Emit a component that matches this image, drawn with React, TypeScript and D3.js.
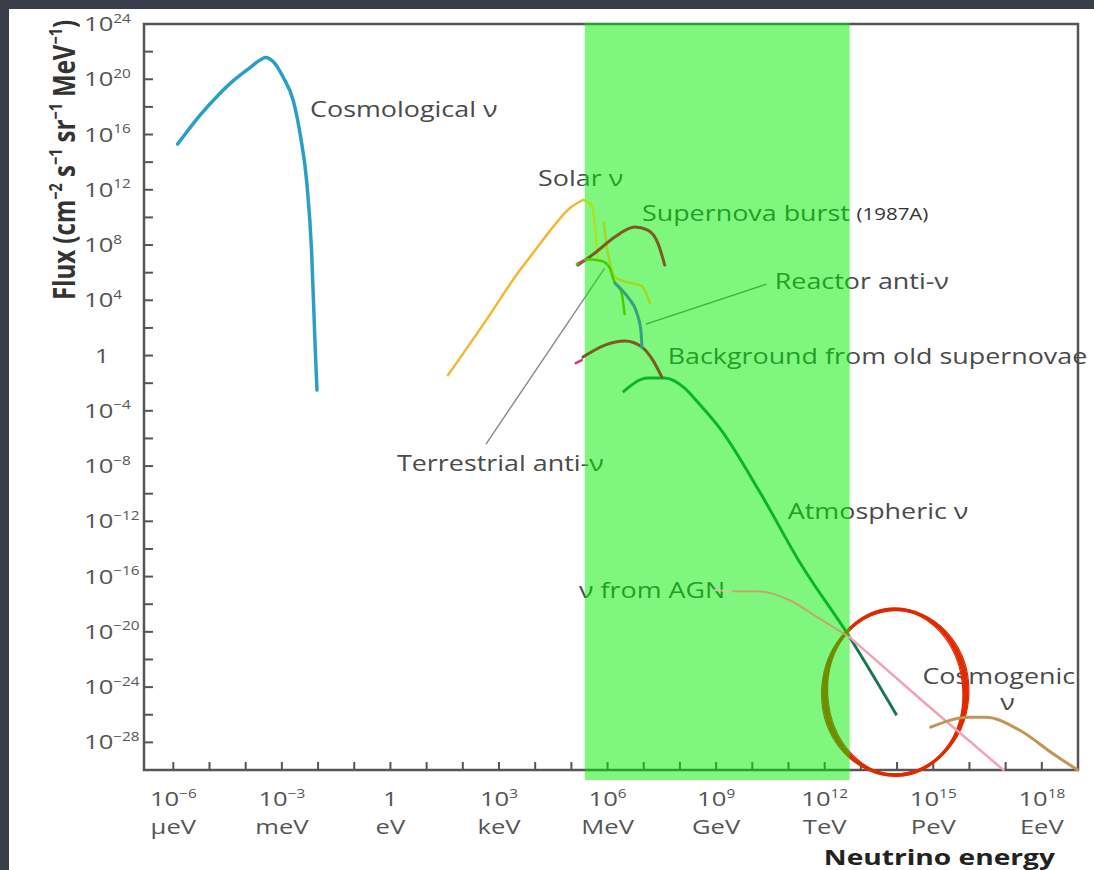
import React, { useEffect, useRef } from 'react';
import * as d3 from 'd3';

// every point is [log10(E / eV), log10(flux)]
const cosmological = [[-5.88, 15.31], [-5.26, 17.41], [-4.80, 18.74], [-4.35, 19.88], [-3.88, 20.85], [-3.60, 21.40], [-3.45, 21.58], [-3.25, 21.30], [-2.97, 20.18], [-2.69, 18.50], [-2.50, 16.11], [-2.31, 12.49], [-2.18, 7.63], [-2.08, 0.61], [-2.03, -2.50]];
const solar = [[1.59, -1.42], [2.61, 2.42], [3.58, 6.19], [3.94, 7.42], [4.49, 9.30], [4.96, 10.68], [5.32, 11.26]];
const solarLineA = [[5.32, 11.26], [5.40, 11.18], [5.57, 10.82], [5.65, 9.45], [5.70, 8.00], [5.73, 7.06]];
const solarLineB = [[5.90, 9.59], [5.95, 8.36], [6.06, 6.77], [6.20, 5.68], [6.53, 5.32], [6.95, 5.03], [7.17, 3.80]];
const terrestrial = [[5.15, 6.62], [5.45, 6.98], [5.84, 6.84], [6.06, 6.33], [6.17, 5.46], [6.39, 4.52], [6.47, 3.00]];
const reactor = [[6.20, 5.25], [6.56, 4.23], [6.81, 3.07], [6.92, 1.84], [6.95, 0.61]];
const supernovaBurst = [[5.18, 6.55], [5.65, 7.42], [6.20, 8.58], [6.75, 9.30], [7.11, 9.08], [7.39, 8.14], [7.58, 6.55]];
const oldSupernovae = [[5.32, -0.11], [5.93, 0.76], [6.48, 1.05], [6.95, 0.61], [7.25, -0.33], [7.50, -1.56]];
const atmospheric = [[6.42, -2.65], [7.11, -1.63], [7.58, -1.63], [8.13, -2.36], [8.49, -3.37], [9.10, -5.25], [10.21, -9.89], [11.31, -14.96], [12.69, -20.39], [13.99, -26.04]];
const agnLead = [[8.96, -16.98], [9.43, -17.06]];
const agn = [[9.43, -17.06], [10.12, -17.06], [11.03, -17.71], [11.84, -19.01], [12.69, -20.39]];
const agnHigh = [[12.69, -20.39], [14.84, -25.31], [16.94, -30.0]];
const cosmogenic = [[14.93, -26.90], [15.98, -26.18], [16.45, -26.18], [17.39, -27.12], [18.33, -28.86], [18.99, -30.0]];
const magentaMarks = [[[5.12, -0.55], [5.29, -0.33]], [[5.23, 6.69], [5.34, 6.84]]];

// pointer lines from labels to curves
const terrestrialPointer = [[2.64, -6.41], [5.92, 6.33]];
const reactorPointer = [[7.06, 2.28], [10.39, 5.17]];

// highlighted band (log10 E) and circled region (centre and radii in decades)
const bandLogE = [5.37, 12.69];
const circle = { e: 13.95, f: -24.37, re: 1.95, rf: 6.0 };

// axis ticks
const yLabelExps = [24, 20, 16, 12, 8, 4, 0, -4, -8, -12, -16, -20, -24, -28];
const xLabelExps = [-6, -3, 0, 3, 6, 9, 12, 15, 18];
const xUnits = ['μeV', 'meV', 'eV', 'keV', 'MeV', 'GeV', 'TeV', 'PeV', 'EeV'];

// annotations: text, left/baseline anchor as [log10 E, log10 flux]
const notes = [
  { t: 'Cosmological ν', e: -2.22, f: 17.27 },
  { t: 'Solar ν', e: 4.08, f: 12.27 },
  { t: 'Supernova burst', e: 6.95, f: 9.74 },
  { t: 'Reactor anti-ν', e: 10.62, f: 4.81 },
  { t: 'Background from old supernovae', e: 7.66, f: -0.62 },
  { t: 'Terrestrial anti-ν', e: 0.18, f: -8.38 },
  { t: 'Atmospheric ν', e: 10.98, f: -11.84 },
  { t: 'ν from AGN', e: 5.21, f: -17.56 },
  { t: 'Cosmogenic', e: 14.70, f: -23.79 }
];

const W = 1094, H = 870;
const SX = 1.28;
const FONT = '"Open Sans", sans-serif';

export default function App() {
  const ref = useRef<SVGSVGElement>(null);

  useEffect(() => {
    const svg = d3.select(ref.current);
    svg.selectAll('*').remove();

    const left = 144, right = 1078, top = 24, bottom = 770;
    const x = d3.scaleLog().domain([Math.pow(10, -6.81), 1e19]).range([left, right]);
    const y = d3.scaleLog().domain([1e-30, 1e24]).range([bottom, top]);
    const px = (e: number) => x(Math.pow(10, e));
    const py = (f: number) => y(Math.pow(10, f));

    const line = d3.line<number[]>()
      .x(d => px(d[0]))
      .y(d => py(d[1]))
      .curve(d3.curveMonotoneX);
    const straight = d3.line<number[]>().x(d => px(d[0])).y(d => py(d[1]));

    svg.append('rect').attr('width', W).attr('height', H).attr('fill', '#3b3e4a');
    svg.append('rect').attr('x', 9).attr('y', 9).attr('width', W - 9).attr('height', H - 9).attr('fill', '#fff');

    const under = svg.append('g');

    // text with optional superscripts, stretched horizontally like the source
    function label(g, xx, yy, parts, size, opts: any = {}) {
      const t = g.append('text')
        .attr('transform', opts.rotate
          ? `translate(${xx},${yy}) scale(${SX},1) rotate(-90)`
          : `translate(${xx},${yy}) scale(${SX},1)`)
        .attr('font-family', FONT)
        .attr('font-size', size)
        .attr('font-weight', opts.weight || 'normal')
        .attr('text-anchor', opts.anchor || 'start')
        .attr('fill', opts.fill || '#4a4a4a');
      const lift = size * 0.42;
      let raised = false;
      parts.forEach(p => {
        const sup = typeof p !== 'string';
        const s = t.append('tspan').text(sup ? p.sup : p);
        if (sup) {
          s.attr('font-size', size * 0.6).attr('dy', raised ? 0 : -lift);
          raised = true;
        } else if (raised) {
          s.attr('dy', lift);
          raised = false;
        }
      });
      return t;
    }

    // frame
    under.append('rect')
      .attr('x', left).attr('y', top)
      .attr('width', right - left).attr('height', bottom - top)
      .attr('fill', 'none').attr('stroke', '#555').attr('stroke-width', 2.5);

    under.selectAll('.ytick')
      .data(d3.range(-28, 24, 2))
      .enter().append('line')
      .attr('x1', left).attr('x2', left + 9)
      .attr('y1', d => py(d)).attr('y2', d => py(d))
      .attr('stroke', '#555').attr('stroke-width', 2);

    under.selectAll('.xtick')
      .data(d3.range(-6, 19))
      .enter().append('line')
      .attr('x1', d => px(d)).attr('x2', d => px(d))
      .attr('y1', bottom).attr('y2', bottom - 8)
      .attr('stroke', '#555').attr('stroke-width', 2);

    yLabelExps.forEach(e => {
      if (e === 0) {
        label(under, 102, py(e) + 7, ['1'], 20, { anchor: 'middle', fill: '#555' });
      } else {
        label(under, 84, py(e) + 7, ['10', { sup: String(e).replace('-', '−') }], 20, { fill: '#555' });
      }
    });

    xLabelExps.forEach((e, i) => {
      const parts = e === 0 ? ['1'] : ['10', { sup: String(e).replace('-', '−') }];
      label(under, px(e), 806, parts, 20, { anchor: 'middle', fill: '#555' });
      label(under, px(e), 834, [xUnits[i]], 20, { anchor: 'middle', fill: '#555' });
    });

    label(under, 1055, 865, ['Neutrino energy'], 22, { anchor: 'end', weight: 'bold', fill: '#222' });
    label(under, 75, 160, ['Flux (cm', { sup: '−2' }, ' s', { sup: '−1' }, ' sr', { sup: '−1' }, ' MeV', { sup: '−1' }, ')'], 24,
      { anchor: 'middle', weight: 'bold', fill: '#333', rotate: true });

    notes.forEach(n => label(under, px(n.e), py(n.f), [n.t], 21));
    label(under, px(12.88), py(9.81), ['(1987A)'], 16, { fill: '#333' });
    label(under, px(17.05), py(-25.67), ['ν'], 21, { anchor: 'middle' });

    // pointers
    under.append('path').attr('d', straight(terrestrialPointer))
      .attr('stroke', '#888').attr('stroke-width', 1.4).attr('fill', 'none');
    under.append('path').attr('d', straight(reactorPointer))
      .attr('stroke', '#777').attr('stroke-width', 1.4).attr('fill', 'none');

    under.append('path').attr('d', line(atmospheric))
      .attr('stroke', '#1a7650').attr('stroke-width', 3).attr('fill', 'none');

    // hand drawn red ring
    const cx = px(circle.e), cy = py(circle.f);
    const rx = px(circle.e + circle.re) - cx, ry = cy - py(circle.f + circle.rf);
    [[0, 0, 0, 3.5], [2, -1, 2, 1.6], [-2, 1, -2, 1.6], [3, 0, 4, 1.2], [-3, 0, -4, 1.2]].forEach(([dx, dy, rot, w]) => {
      under.append('ellipse')
        .attr('cx', cx).attr('cy', cy)
        .attr('rx', rx + dx).attr('ry', ry + dy)
        .attr('transform', `rotate(${rot},${cx},${cy})`)
        .attr('fill', 'none').attr('stroke', '#e02a00').attr('stroke-width', w);
    });

    // green highlight band
    svg.append('rect')
      .attr('x', px(bandLogE[0])).attr('y', top - 1)
      .attr('width', px(bandLogE[1]) - px(bandLogE[0]))
      .attr('height', bottom - top + 11)
      .attr('fill', 'rgb(0,240,0)').attr('fill-opacity', 0.5);

    const over = svg.append('g').attr('fill', 'none').attr('stroke-linecap', 'round');
    const draw = (data, color, w) => over.append('path').attr('d', line(data)).attr('stroke', color).attr('stroke-width', w);

    draw(cosmological, '#2a9fc6', 3.5);
    draw(solar, '#f4b731', 2.5);
    draw(solarLineA, '#b2e01c', 2.5);
    draw(solarLineB, '#a4d81a', 2.5);
    draw(supernovaBurst, '#7b5a23', 3);
    draw(oldSupernovae, '#7b5a23', 3);
    draw(terrestrial, '#4ccc00', 2.5);
    draw(reactor, '#3a9f80', 3);
    draw(agn, '#c2a66e', 2);
    draw(agnLead, '#d8c8a0', 2).attr('stroke-dasharray', '2,2');
    draw(agnHigh, '#f0a3b4', 2.5);
    draw(cosmogenic, '#c0955a', 3);
    magentaMarks.forEach(m => draw(m, '#d2387a', 2.5));
  }, []);

  return (
    <svg ref={ref} width={W} height={H} style={{ position: 'absolute', left: 0, top: 0, display: 'block' }} />
  );
}
